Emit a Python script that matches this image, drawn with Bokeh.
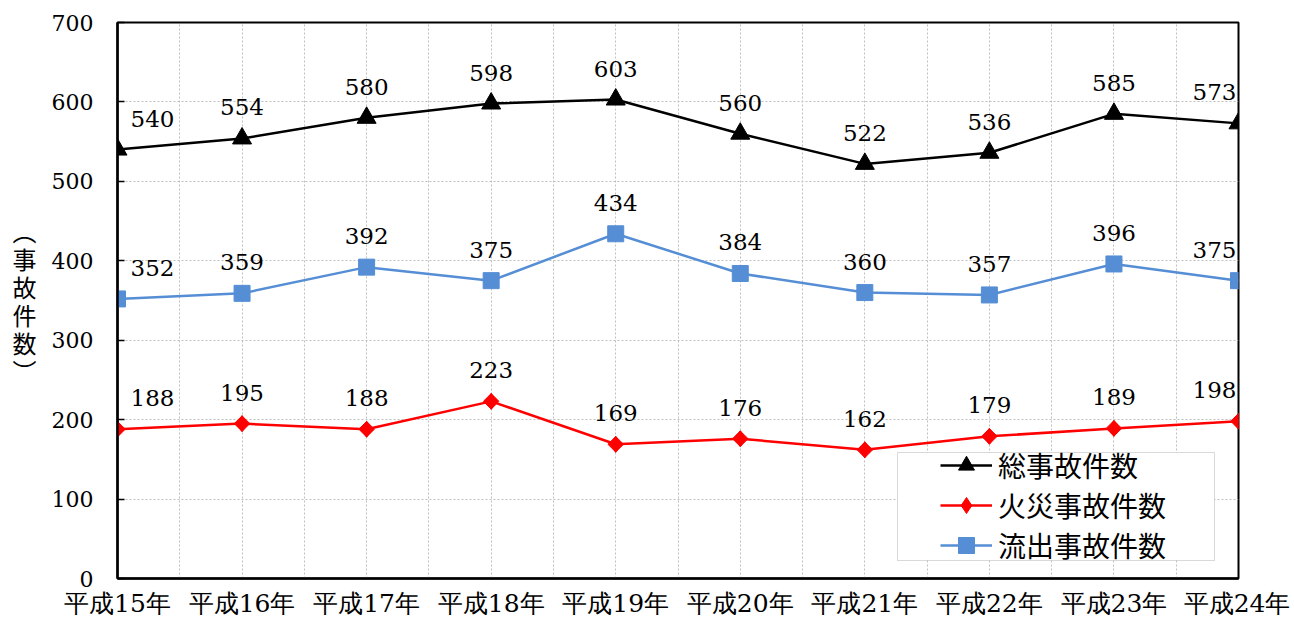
import numpy as np
from bokeh.plotting import figure
from bokeh.models import (Range1d, FixedTicker, ColumnDataSource, Legend, LegendItem,
                          BoxAnnotation)
from bokeh.core.properties import value
from bokeh.embed import file_html
from bokeh.resources import INLINE

years = ["平成15年", "平成16年", "平成17年", "平成18年", "平成19年",
         "平成20年", "平成21年", "平成22年", "平成23年", "平成24年"]
total = [540, 554, 580, 598, 603, 560, 522, 536, 585, 573]
fire = [188, 195, 188, 223, 169, 176, 162, 179, 189, 198]
spill = [352, 359, 392, 375, 434, 384, 360, 357, 396, 375]
y_ticks = [0, 100, 200, 300, 400, 500, 600, 700]

NUM = "DejaVu Serif"
CJK = "Noto Sans CJK JP"

n = len(years)
xs = list(range(n))
Y_MAX = 700

# layout (pixels)
W, H = 1290, 624
B_LEFT, B_RIGHT, B_TOP, B_BOTTOM = 117, 52, 22, 46
FRAME_W = W - B_LEFT - B_RIGHT
FRAME_H = H - B_TOP - B_BOTTOM

p = figure(width=W, height=H, output_backend="svg", toolbar_location=None,
           x_range=Range1d(0, n - 1), y_range=Range1d(0, Y_MAX),
           min_border_left=B_LEFT, min_border_right=B_RIGHT,
           min_border_top=B_TOP, min_border_bottom=B_BOTTOM)

p.outline_line_color = "black"
p.outline_line_width = 2
p.background_fill_color = "white"
p.border_fill_color = "white"

# axes
p.xaxis.ticker = FixedTicker(ticks=xs)
p.xaxis.major_label_overrides = {i: years[i] for i in xs}
p.xaxis.major_label_text_font = NUM
p.xaxis.major_label_text_font_size = "25px"
p.xaxis.major_label_text_color = "black"
p.xaxis.major_tick_line_color = None
p.xaxis.major_tick_in = 0
p.xaxis.major_tick_out = 0
p.xaxis.minor_tick_line_color = None
p.xaxis.axis_line_color = "black"
p.xaxis.axis_line_width = 2.5
p.xaxis.major_label_standoff = 10

p.yaxis.ticker = FixedTicker(ticks=y_ticks)
p.yaxis.major_label_text_font = NUM
p.yaxis.major_label_text_font_size = "22px"
p.yaxis.major_label_text_color = "black"
p.yaxis.major_tick_in = 7
p.yaxis.major_tick_out = 0
p.yaxis.major_tick_line_color = "black"
p.yaxis.major_tick_line_width = 1.5
p.yaxis.minor_tick_line_color = None
p.yaxis.axis_line_color = "black"
p.yaxis.axis_line_width = 2.5
p.yaxis.major_label_standoff = 24
p.yaxis.axis_label = "︵\n事\n故\n件\n数\n︶"
p.yaxis.axis_label_orientation = "horizontal"
p.yaxis.axis_label_text_font = CJK
p.yaxis.axis_label_text_font_style = "normal"
p.yaxis.axis_label_text_font_size = "24px"
p.yaxis.axis_label_text_color = "black"
p.yaxis.axis_label_text_line_height = 0.8
p.yaxis.axis_label_standoff = 12

# grids
half = [i * 0.5 for i in range(2 * (n - 1) + 1)]
p.xgrid.ticker = FixedTicker(ticks=half)
p.xgrid.grid_line_color = "#BFBFBF"
p.xgrid.grid_line_dash = "2 2"
p.xgrid.grid_line_width = 1
p.ygrid.grid_line_color = "#BFBFBF"
p.ygrid.grid_line_dash = "2 2"
p.ygrid.grid_line_width = 1

series = [
    ("総事故件数", total, "black", "triangle", 19, 0.0, None, 0),
    ("火災事故件数", fire, "#FF0000", "square", 11, np.pi / 4, "diamond", 16),
    ("流出事故件数", spill, "#558ED5", "square", 16, 0.0, None, 0),
]

items = []
for name, vals, color, marker, size, ang, lmarker, lsize in series:
    src = ColumnDataSource(dict(x=xs, y=vals, t=[str(v) for v in vals],
                                dx=[35 if i == 0 else (-24 if i == n - 1 else 0) for i in xs]))
    r1 = p.line("x", "y", source=src, line_color=color, line_width=2.5)
    r2 = p.scatter("x", "y", source=src, marker=marker, size=size, angle=ang,
                   fill_color=color, line_color=color)
    if lmarker is not None:
        r2 = p.scatter("x", "y", source=src, marker=lmarker, size=lsize,
                       fill_color=color, line_color=color)
    p.text("x", "y", text="t", source=src, x_offset="dx", y_offset=-31,
           text_font=value(NUM), text_font_size="23px", text_color="black",
           text_align="center", text_baseline="middle")
    items.append(LegendItem(label=name, renderers=[r1, r2]))


# legend frame (pixel box converted to data coordinates)
def px_x(px):
    return (px - B_LEFT) / FRAME_W * (n - 1)


def px_y(py):
    return (B_TOP + FRAME_H - py) / FRAME_H * Y_MAX


box = BoxAnnotation(left=px_x(897), right=px_x(1214), top=px_y(452), bottom=px_y(560),
                    fill_color="white", fill_alpha=1, line_color="#808080", line_width=1)
p.add_layout(box)

legend = Legend(items=items, location=(823, 13))
legend.label_text_font = CJK
legend.label_text_font_size = "28px"
legend.label_text_color = "black"
legend.glyph_width = 52
legend.glyph_height = 40
legend.label_height = 40
legend.label_standoff = 6
legend.spacing = -3
legend.padding = 0
legend.margin = 0
legend.border_line_color = None
legend.background_fill_alpha = 0
p.add_layout(legend, "center")

open("out.html", "w").write(file_html(p, INLINE))
